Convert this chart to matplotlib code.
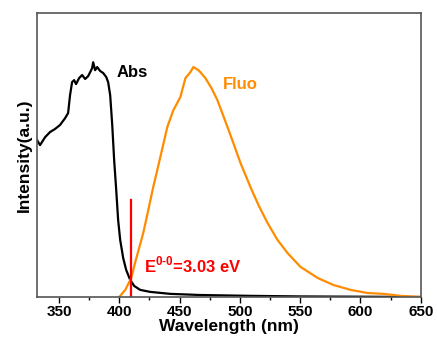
import matplotlib
matplotlib.use("Agg")
import matplotlib.pyplot as plt
from matplotlib.ticker import MultipleLocator

plt.rcParams['font.family'] = ['Liberation Sans', 'DejaVu Sans']
plt.rcParams['font.weight'] = 'bold'
plt.rcParams['mathtext.fontset'] = 'custom'
plt.rcParams['mathtext.bf'] = 'Liberation Sans:bold'
plt.rcParams['mathtext.rm'] = 'Liberation Sans:bold'

abs_wl = [331.7, 334.2, 338.4, 342.5, 346.7, 350.8, 355.0, 357.5, 359.1, 360.8, 362.5, 364.1,
          366.6, 369.1, 371.6, 374.1, 375.8, 377.4, 378.3, 379.9, 381.6, 384.1, 386.6, 389.1,
          390.7, 392.4, 394.1, 395.7, 397.4, 399.0, 400.7, 403.2, 405.7, 409.0, 412.3, 417.3,
          425.6, 442.3, 467.2, 508.8, 550.3, 650.0]
abs_int = [0.553, 0.535, 0.563, 0.581, 0.592, 0.606, 0.630, 0.648, 0.711, 0.757, 0.764, 0.750,
           0.771, 0.782, 0.768, 0.778, 0.792, 0.806, 0.827, 0.799, 0.810, 0.796, 0.789, 0.775,
           0.757, 0.711, 0.606, 0.482, 0.377, 0.271, 0.201, 0.137, 0.095, 0.060, 0.039, 0.025,
           0.018, 0.011, 0.007, 0.004, 0.002, 0.0]

fluo_wl = [399.9, 404.9, 409.9, 413.2, 419.8, 424.0, 428.1, 434.0, 439.8, 444.8, 450.6, 454.8,
           458.9, 461.4, 463.1, 465.6, 467.2, 471.4, 476.4, 481.3, 489.7, 494.6, 500.5, 508.8,
           515.4, 522.9, 531.2, 539.5, 550.3, 564.5, 577.8, 591.9, 606.0, 619.3, 633.4, 650.0]
fluo_int = [0.0, 0.025, 0.067, 0.123, 0.225, 0.306, 0.387, 0.493, 0.599, 0.658, 0.704, 0.771,
            0.792, 0.810, 0.806, 0.799, 0.792, 0.771, 0.736, 0.694, 0.599, 0.542, 0.472, 0.387,
            0.324, 0.261, 0.201, 0.155, 0.106, 0.067, 0.042, 0.025, 0.014, 0.011, 0.004, 0.0]

e00_wl = 410
e00_top = 0.342
xticks = [350, 400, 450, 500, 550, 600, 650]

fig = plt.figure(figsize=(4.37, 3.42), dpi=100)
ax = fig.add_axes([0.0847, 0.1316, 0.878, 0.830])

ax.plot(abs_wl, abs_int, color='black', lw=1.6)
ax.plot(fluo_wl, fluo_int, color='#FF8C00', lw=1.6)
ax.plot([e00_wl, e00_wl], [0, e00_top], color='#FF0000', lw=1.6)

ax.set_xlim(331.7, 650)
ax.set_ylim(0, 1.0)
ax.set_xticks(xticks)
ax.xaxis.set_minor_locator(MultipleLocator(25))
ax.set_yticks([])
ax.tick_params(axis='x', which='major', direction='out', length=4, width=1, labelsize=11, pad=2)
ax.tick_params(axis='x', which='minor', direction='out', length=2.5, width=1)
for lab in ax.get_xticklabels():
    lab.set_fontweight('bold')
for s in ax.spines.values():
    s.set_color('#555555')
    s.set_linewidth(1.2)

ax.set_xlabel('Wavelength (nm)', fontsize=12.5, fontweight='bold', labelpad=0)
ax.set_ylabel('Intensity(a.u.)', fontsize=12.5, fontweight='bold', labelpad=4)

ax.text(397.4, 0.79, 'Abs', fontsize=12, fontweight='bold', color='black', va='center', ha='left')
ax.text(486, 0.75, 'Fluo', fontsize=12, fontweight='bold', color='#FF8C00', va='center', ha='left')
ax.text(420.7, 0.113, r'E$^{\mathbf{0\text{-}0}}$=3.03 eV', fontsize=12, fontweight='bold',
        color='#FF0000', va='center', ha='left')

fig.savefig('out.png', dpi=100)
